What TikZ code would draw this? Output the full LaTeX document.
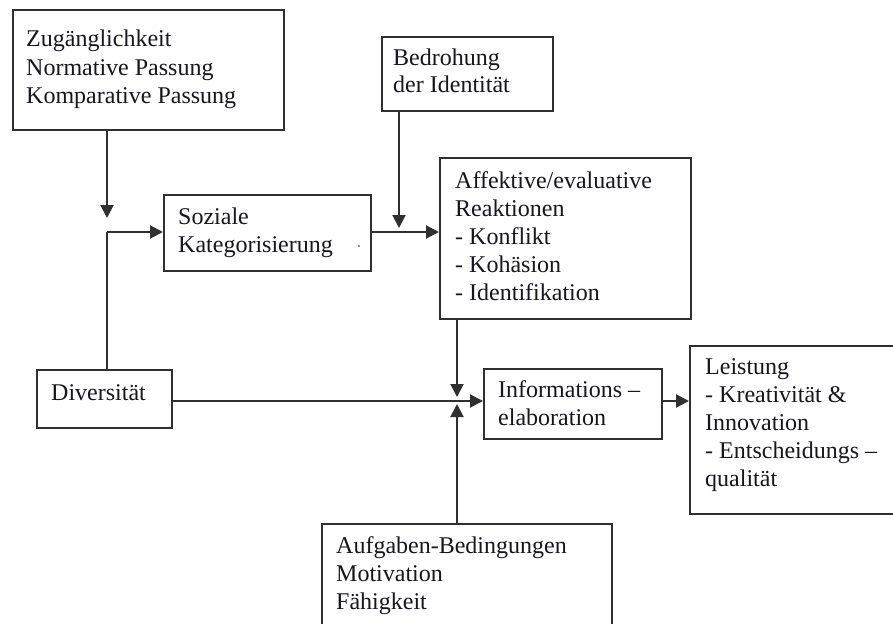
\documentclass[tikz,border=0pt]{standalone}
\usepackage{fontspec}
\setmainfont{Liberation Serif}
\usetikzlibrary{arrows.meta}
\definecolor{frame}{HTML}{303030}
\definecolor{ink}{HTML}{16161E}
\begin{document}
\begin{tikzpicture}[x=1pt,y=-1pt,
  box/.style={draw=frame, line width=1.8pt, rectangle, inner sep=0pt, anchor=north west},
  % anchored at the baseline of the last line
  label/.style={text=ink, font=\fontsize{24}{28}\selectfont, align=left, anchor=base west, inner sep=0pt},
  link/.style={draw=frame, line width=2pt, -{Triangle[length=13pt,width=13pt]}},
  plain/.style={draw=frame, line width=2pt}]
\useasboundingbox (0,0) rectangle (893,623);
\fill[white] (0,0) rectangle (893,623);
\clip (0,0) rectangle (893,623);

% boxes
\node[box, minimum width=271pt, minimum height=120pt] (zug)   at (12,9)    {};
\node[box, minimum width=171pt, minimum height=74pt]  (bed)   at (381,36)  {};
\node[box, minimum width=207pt, minimum height=76pt]  (soz)   at (163,194) {};
\node[box, minimum width=251pt, minimum height=161pt] (aff)   at (439,157) {};
\node[box, minimum width=135pt, minimum height=58pt]  (div)   at (36,369)  {};
\node[box, minimum width=178pt, minimum height=70pt]  (info)  at (483,368) {};
\node[box, minimum width=216pt, minimum height=168pt] (leist) at (689,345) {};
\node[box, minimum width=290pt, minimum height=117pt] (auf)   at (321,523) {};

% box texts
\node[label] (zugT)   at (26,103)  {Zugänglichkeit\\Normative Passung\\Komparative Passung};
\node[label] (bedT)   at (393,93)  {Bedrohung\\der Identität};
\node[label] (sozT)   at (178,252) {Soziale\\Kategorisierung};
\node[label] (affT)   at (455,300) {Affektive/evaluative\\Reaktionen\\- Konflikt\\- Kohäsion\\- Identifikation};
\node[label] (divT)   at (51,400)  {Diversität};
\node[label] (infoT)  at (498,425) {Informations –\\elaboration};
\node[label] (leistT) at (705,486) {Leistung\\- Kreativität \&\\Innovation\\- Entscheidungs –\\qualität};
\node[label] (aufT)   at (336,609) {Aufgaben-Bedingungen\\Motivation\\Fähigkeit};

% stray dot inside the categorisation box
\fill[frame] (359,246) circle (0.8pt);

% junctions
\coordinate (j1) at (107,232);
\coordinate (jb) at (399,232);
\coordinate (j2) at (457,401);

% connectors
\draw[plain] (div.north -| j1) -- (j1);
\draw[link, shorten >=14pt] (zug.south -| j1) -- (j1);
\draw[link] (j1) -- (soz.west |- j1);
\draw[link] (soz.east |- jb) -- (aff.west |- jb);
\draw[link, shorten >=4pt] (bed.south -| jb) -- (jb);
\draw[link, shorten >=4pt] (aff.south -| j2) -- (j2);
\draw[link, shorten >=3pt] (auf.north -| j2) -- (j2);
\draw[link] (div.east |- j2) -- (info.west |- j2);
\draw[link] (info.east |- j2) -- (leist.west |- j2);
\end{tikzpicture}
\end{document}
